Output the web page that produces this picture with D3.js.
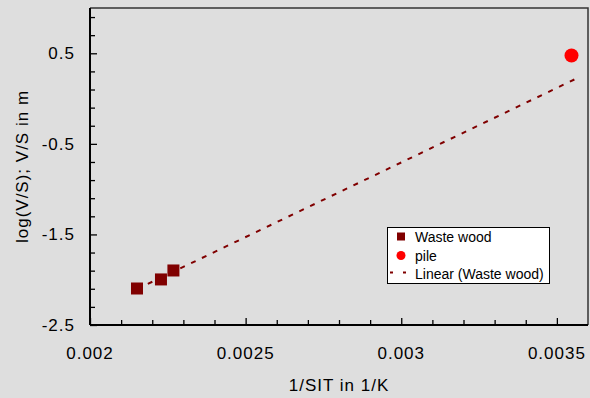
<!DOCTYPE html>
<html>
<head>
<meta charset="utf-8">
<script src="https://cdn.jsdelivr.net/npm/d3@7"></script>
<style>
  html, body { margin: 0; padding: 0; background: #dedede; }
  svg { display: block; }
  text { font-family: "Liberation Sans", Arial, Helvetica, sans-serif; fill: #000; }
</style>
</head>
<body>
<svg id="chart" width="590" height="398"></svg>
<script>
// ---- data ----
const wasteX = [0.002151, 0.002228, 0.002268];
const wasteY = [-2.097, -1.997, -1.898];
const pileX = [0.003547];
const pileY = [0.475];
const trendRange = [0.002151, 0.00357];
const xTickLabels = ["0.002", "0.0025", "0.003", "0.0035"];
const xTickValues = [0.002, 0.0025, 0.003, 0.0035];
const yTickLabels = ["-2.5", "-1.5", "-0.5", "0.5"];
const yTickValues = [-2.5, -1.5, -0.5, 0.5];
const legendLabels = ["Waste wood", "pile", "Linear (Waste wood)"];
const xTitle = "1/SIT in 1/K";
const yTitle = "log(V/S); V/S in m";

const svg = d3.select("#chart");
const W = 590, H = 398;
const m = { left: 90, right: 2, top: 8, bottom: 73 };

svg.append("rect").attr("width", W).attr("height", H).attr("fill", "#dedede");

const x = d3.scaleLinear().domain([0.002, 0.0036]).range([m.left, W - m.right]);
const y = d3.scaleLinear().domain([-2.5, 1.0]).range([H - m.bottom, m.top]);

// frame top/right
svg.append("path")
  .attr("d", `M${x(0.002)},${y(1.0)}H${x(0.0036)}V${y(-2.5)}`)
  .attr("fill", "none").attr("stroke", "#333").attr("stroke-width", 1.5);

// minor ticks
const xMinor = d3.range(0, 16).map(i => 0.002 + i * 0.0001);
const yMinor = d3.range(0, 18).map(i => -2.5 + i * 0.2);

const xAxis = d3.axisBottom(x)
  .tickValues(xMinor)
  .tickSize(0)
  .tickFormat("");
const gx = svg.append("g").attr("transform", `translate(0,${y(-2.5)})`).call(xAxis);
gx.select(".domain").remove();
gx.selectAll(".tick").append("line")
  .attr("y1", 0)
  .attr("y2", d => xTickValues.some(v => Math.abs(v - d) < 1e-9) ? -7 : -5)
  .attr("stroke", "#000").attr("stroke-width", 1.3);

const yAxis = d3.axisLeft(y).tickValues(yMinor).tickSize(0).tickFormat("");
const gy = svg.append("g").attr("transform", `translate(${x(0.002)},0)`).call(yAxis);
gy.select(".domain").remove();
gy.selectAll(".tick").append("line")
  .attr("x1", 0)
  .attr("x2", d => yTickValues.some(v => Math.abs(v - d) < 1e-9) ? 7 : 5)
  .attr("stroke", "#000").attr("stroke-width", 1.3);

// axis lines
svg.append("line").attr("x1", x(0.002)).attr("x2", x(0.0036))
  .attr("y1", y(-2.5)).attr("y2", y(-2.5)).attr("stroke", "#000").attr("stroke-width", 2);
svg.append("line").attr("x1", x(0.002)).attr("x2", x(0.002))
  .attr("y1", y(1.0)).attr("y2", y(-2.5)).attr("stroke", "#000").attr("stroke-width", 2);

// tick labels
svg.append("g").selectAll("text").data(xTickValues).join("text")
  .attr("x", d => x(d)).attr("y", y(-2.5) + 34)
  .attr("text-anchor", "middle")
  .attr("font-size", 17).style("letter-spacing", "1px")
  .text((d, i) => xTickLabels[i]);

svg.append("g").selectAll("text").data(yTickValues).join("text")
  .attr("x", x(0.002) - 15).attr("y", d => y(d) + 6)
  .attr("text-anchor", "end")
  .attr("font-size", 17).style("letter-spacing", "1px")
  .text((d, i) => yTickLabels[i]);

// axis titles
svg.append("text")
  .attr("x", (x(0.002) + x(0.0036)) / 2).attr("y", 391)
  .attr("text-anchor", "middle").attr("font-size", 17).style("letter-spacing", "1px")
  .text(xTitle);
svg.append("text")
  .attr("transform", `translate(28,${(y(1.0) + y(-2.5)) / 2}) rotate(-90)`)
  .attr("text-anchor", "middle").attr("font-size", 17).style("letter-spacing", "1px")
  .text(yTitle);

// trendline (least squares on waste wood)
const mx = d3.mean(wasteX), my = d3.mean(wasteY);
let sxy = 0, sxx = 0;
wasteX.forEach((v, i) => { sxy += (v - mx) * (wasteY[i] - my); sxx += (v - mx) ** 2; });
const slope = sxy / sxx, icpt = my - slope * mx;
svg.append("line")
  .attr("x1", x(trendRange[0])).attr("y1", y(icpt + slope * trendRange[0]))
  .attr("x2", x(trendRange[1])).attr("y2", y(icpt + slope * trendRange[1]))
  .attr("stroke", "#800000").attr("stroke-width", 2).attr("stroke-dasharray", "5,7");

// points
const sq = 12;
svg.append("g").selectAll("rect").data(wasteX).join("rect")
  .attr("x", (d) => x(d) - sq / 2).attr("y", (d, i) => y(wasteY[i]) - sq / 2)
  .attr("width", sq).attr("height", sq).attr("fill", "#800000");
svg.append("g").selectAll("circle").data(pileX).join("circle")
  .attr("cx", d => x(d)).attr("cy", (d, i) => y(pileY[i])).attr("r", 7)
  .attr("fill", "#ff0000");

// legend
const lg = svg.append("g");
lg.append("rect").attr("x", 387.5).attr("y", 227.5).attr("width", 162).attr("height", 56)
  .attr("fill", "#fff").attr("stroke", "#000").attr("stroke-width", 1);
const rows = [241.5, 260.5, 279];
lg.append("rect").attr("x", 397).attr("y", 232.5).attr("width", 8).attr("height", 8).attr("fill", "#800000");
lg.append("circle").attr("cx", 401).attr("cy", 255.5).attr("r", 4.5).attr("fill", "#ff0000");
lg.append("line").attr("x1", 390).attr("x2", 407).attr("y1", 272.5).attr("y2", 272.5)
  .attr("stroke", "#800000").attr("stroke-width", 2).attr("stroke-dasharray", "3,10");
lg.selectAll("text.l").data(legendLabels).join("text").attr("class", "l")
  .attr("x", 415).attr("y", (d, i) => rows[i])
  .attr("font-size", 14).text(d => d);
</script>
</body>
</html>
